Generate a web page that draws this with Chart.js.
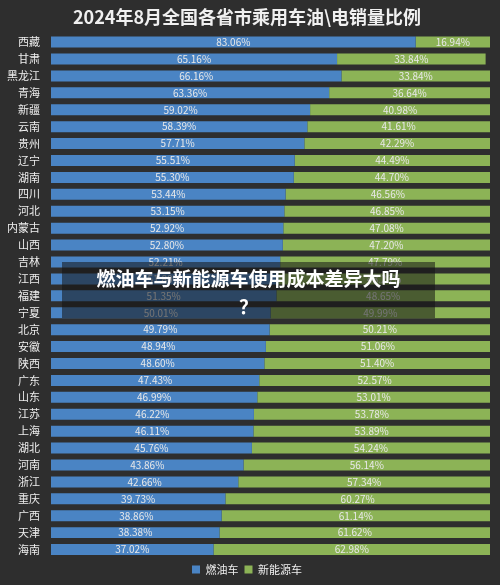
<!DOCTYPE html>
<html><head><meta charset="utf-8">
<script src="https://cdn.jsdelivr.net/npm/chart.js@4"></script>
<style>
body{margin:0;background:#2e2e2e;font-family:"Noto Sans CJK SC",sans-serif;}
#wrap{position:relative;width:500px;height:585px;}
#banner{position:absolute;left:62px;top:262px;width:373px;height:56px;background:rgba(20,20,20,0.55);color:#fff;font-weight:bold;font-size:19px;text-align:center;line-height:28px;padding-top:2px;box-sizing:border-box;}
</style></head><body>
<div id="wrap"><canvas id="c" width="500" height="585"></canvas>
<div id="banner">燃油车与新能源车使用成本差异大吗<br>？</div></div>
<script>
const provinces = ['西藏','甘肃','黑龙江','青海','新疆','云南','贵州','辽宁','湖南','四川','河北','内蒙古','山西','吉林','江西','福建','宁夏','北京','安徽','陕西','广东','山东','江苏','上海','湖北','河南','浙江','重庆','广西','天津','海南'];
const fuelShare = [83.06,65.16,66.16,63.36,59.02,58.39,57.71,55.51,55.30,53.44,53.15,52.92,52.80,52.21,51.80,51.35,50.01,49.79,48.94,48.60,47.43,46.99,46.22,46.11,45.76,43.86,42.66,39.73,38.86,38.38,37.02];
const evShare = [16.94,33.84,33.84,36.64,40.98,41.61,42.29,44.49,44.70,46.56,46.85,47.08,47.20,47.79,48.20,48.65,49.99,50.21,51.06,51.40,52.57,53.01,53.78,53.89,54.24,56.14,57.34,60.27,61.14,61.62,62.98];

const labelPlugin = {
  id: 'segLabels',
  afterDatasetsDraw(chart) {
    const ctx = chart.ctx;
    ctx.save();
    ctx.font = '10px "Noto Sans CJK SC"';
    ctx.fillStyle = '#e8e8e8';
    ctx.textAlign = 'center';
    ctx.textBaseline = 'middle';
    chart.data.datasets.forEach((ds, di) => {
      chart.getDatasetMeta(di).data.forEach((bar, i) => {
        const x = (bar.x + bar.base) / 2;
        ctx.fillText(ds.data[i].toFixed(2) + '%', x, bar.y);
      });
    });
    ctx.restore();
  }
};

new Chart(document.getElementById('c'), {
  type: 'bar',
  data: {
    labels: provinces,
    datasets: [
      { label: '燃油车', data: fuelShare, backgroundColor: '#4a84c4', barPercentage: 0.65, categoryPercentage: 1 },
      { label: '新能源车', data: evShare, backgroundColor: '#8cb356', barPercentage: 0.65, categoryPercentage: 1 }
    ]
  },
  options: {
    indexAxis: 'y',
    responsive: false,
    animation: false,
    layout: { padding: { left: 4, right: 10, top: 4, bottom: 0 } },
    scales: {
      x: { stacked: true, min: 0, max: 100, display: false },
      y: {
        stacked: true,
        grid: { display: false },
        border: { display: false },
        ticks: { color: '#eeeeee', font: { size: 11, family: '"Noto Sans CJK SC"' }, autoSkip: false }
      }
    },
    plugins: {
      title: { display: true, text: '2024年8月全国各省市乘用车油\\电销量比例', color: '#f0f0f0', font: { size: 18, weight: 'bold', family: '"Noto Sans CJK SC"' }, padding: { top: 2, bottom: 6 } },
      legend: { position: 'bottom', labels: { color: '#eeeeee', boxWidth: 8, boxHeight: 8, font: { size: 11, family: '"Noto Sans CJK SC"' }, padding: 6 } },
      tooltip: { enabled: false }
    }
  },
  plugins: [labelPlugin]
});
</script></body></html>
